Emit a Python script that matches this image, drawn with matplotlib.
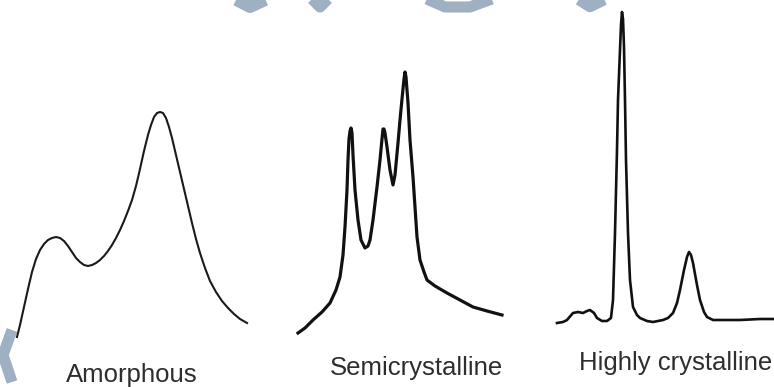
import matplotlib.pyplot as plt

plt.rcParams['font.family'] = ['Liberation Sans', 'DejaVu Sans']

# traced XRD patterns: position (a.u.) and intensity (a.u.)
amorphous_x = [17, 20, 24, 28, 32, 36, 40, 44, 48, 52, 56, 60, 64, 68, 72, 76, 80, 84, 88, 92,
               96, 100, 104, 108, 112, 116, 120, 124, 128, 132, 136, 140, 144, 148, 151, 154, 157, 160, 163, 166,
               169, 172, 176, 180, 184, 188, 192, 196, 200, 205, 210, 216, 222, 228, 234, 240, 247]
amorphous_y = [50, 62, 80, 98, 115, 128, 137, 143, 147, 149, 150, 149, 146, 141, 135, 129, 125, 122, 121, 122,
               124, 127, 131, 136, 142, 149, 157, 166, 176, 187, 201, 218, 236, 252, 262, 270, 274, 275, 274, 269,
               260, 249, 232, 215, 198, 181, 164, 148, 134, 119, 106, 95, 86, 79, 73, 68, 64]

semi_x = [298, 305, 313, 322, 330, 336, 340, 343, 345, 347, 348, 349, 350, 351, 352, 353, 355, 358, 361, 365,
          368, 370, 373, 377, 380, 382, 383, 384, 385, 387, 390, 393, 395, 398, 400, 402, 404, 405, 406, 408,
          410, 413, 417, 420, 424, 427, 435, 447, 460, 473, 487, 502]
semi_y = [54, 59, 67, 75, 84, 97, 110, 132, 160, 197, 227, 248, 256, 259, 254, 232, 197, 167, 147, 139,
          141, 147, 167, 200, 227, 248, 258, 258, 254, 240, 217, 202, 212, 244, 267, 288, 308, 315, 310, 284,
          247, 210, 150, 127, 115, 107, 101, 94, 87, 80, 76, 72]

high_x = [557, 563, 567, 573, 578, 583, 587, 590, 594, 597, 602, 607, 611, 613, 615, 617, 618, 620, 621, 622,
          623, 624, 625, 626, 628, 630, 633, 637, 640, 647, 653, 658, 663, 668, 673, 677, 680, 684, 687, 689,
          691, 693, 697, 700, 704, 707, 713, 720, 740, 760, 773]
high_y = [64, 65, 67, 74, 75, 74, 76, 77, 74, 69, 66, 66, 69, 87, 154, 237, 287, 337, 362, 375,
          368, 340, 287, 227, 154, 107, 80, 72, 69, 66, 65, 66, 67, 69, 74, 84, 97, 117, 130, 135,
          132, 124, 102, 87, 75, 70, 67, 67, 67, 68, 68]

labels = ['Amorphous', 'Semicrystalline', 'Highly crystalline']
label_x = [132, 416, 676]
label_y = [12, 19, 24]

fig = plt.figure(figsize=(7.74, 3.87), dpi=100)
ax = fig.add_axes([0, 0, 1, 1])
ax.set_xlim(0, 774)
ax.set_ylim(0, 387)
ax.axis('off')

# faint watermark strokes
wm = '#9fb0c2'
ax.plot([225, 250, 278], [394, 381, 394], color=wm, lw=10, solid_capstyle='butt')
ax.plot([306, 320, 334], [394, 380, 394], color=wm, lw=8, solid_capstyle='butt')
ax.plot([420, 445, 470, 500], [391, 380, 380, 391], color=wm, lw=8, solid_capstyle='butt')
ax.plot([570, 590, 616], [394, 381, 394], color=wm, lw=9, solid_capstyle='butt')
ax.plot([12, 3, 12], [57, 32, 5], color=wm, lw=8, solid_capstyle='butt')

ax.plot(amorphous_x, amorphous_y, color='#1a1a1a', lw=1.5)
ax.plot(semi_x, semi_y, color='#111111', lw=2.3)
ax.plot(high_x, high_y, color='#111111', lw=1.9)

for t, x, y in zip(labels, label_x, label_y):
    ax.text(x, y, t, ha='center', va='center', fontsize=18.5, color='#2e2e2e')

fig.savefig('out.png', dpi=100)
